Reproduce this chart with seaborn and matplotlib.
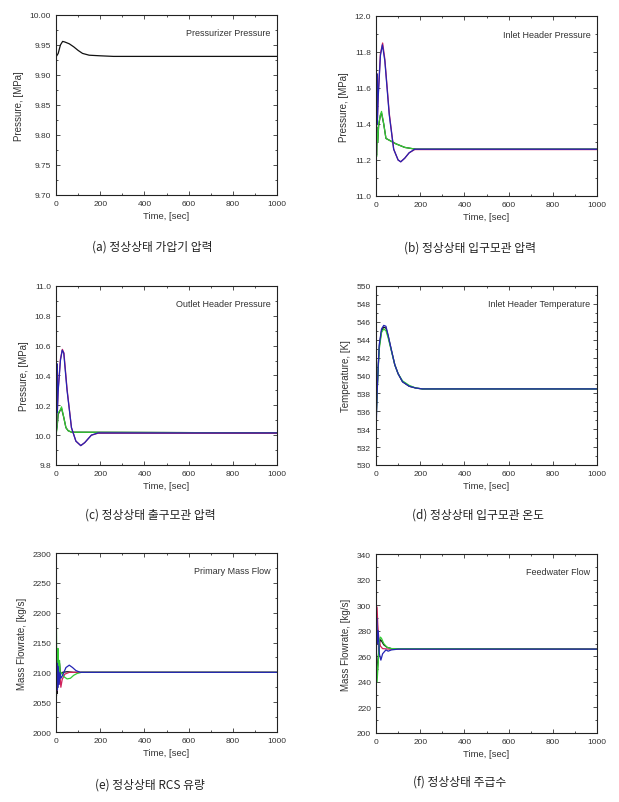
"""
plot.py

Six steady-state transient panels (pressure, temperature, flow) laid out 2x3
with Korean captions under each panel.
"""

import matplotlib
matplotlib.use("Agg")
import matplotlib.pyplot as plt
from matplotlib.ticker import MultipleLocator, AutoMinorLocator
import seaborn as sns

# ---- data -----------------------------------------------------------------
# (a) pressurizer pressure [MPa]
A_T = [0, 5, 10, 20, 30, 40, 60, 80, 100, 120, 150, 200, 260, 400, 1000]
A_BLACK = [9.930, 9.933, 9.936, 9.950, 9.956, 9.955, 9.952, 9.947, 9.941,
           9.936, 9.933, 9.932, 9.931, 9.931, 9.931]

# (b) inlet header pressure [MPa]
B_T_BLUE = [0, 2, 4, 6, 10, 20, 29, 40, 60, 80, 100, 112, 130, 150, 175, 1000]
B_BLUE = [12.0, 11.35, 11.68, 11.40, 11.55, 11.78, 11.84, 11.75, 11.45,
          11.26, 11.20, 11.19, 11.21, 11.24, 11.26, 11.26]
B_T_RED = [0, 2, 4, 6, 10, 20, 30, 40, 60, 80, 100, 112, 130, 150, 175, 1000]
B_RED = [11.9, 11.36, 11.66, 11.42, 11.56, 11.79, 11.85, 11.76, 11.46,
         11.26, 11.20, 11.19, 11.21, 11.24, 11.258, 11.258]
B_T_GREEN = [0, 3, 5, 8, 12, 20, 25, 35, 45, 60, 90, 130, 180, 1000]
B_GREEN = [11.25, 11.22, 11.38, 11.30, 11.40, 11.45, 11.47, 11.40, 11.32,
           11.31, 11.29, 11.27, 11.26, 11.26]
B_BLACK = [11.24, 11.23, 11.36, 11.30, 11.39, 11.45, 11.46, 11.40, 11.32,
           11.31, 11.29, 11.27, 11.26, 11.26]

# (c) outlet header pressure [MPa]
C_T_BLUE = [0, 2, 4, 6, 10, 20, 28, 35, 50, 70, 90, 112, 130, 160, 190, 1000]
C_BLUE = [10.80, 10.05, 10.48, 10.15, 10.30, 10.50, 10.57, 10.55, 10.30,
          10.05, 9.96, 9.93, 9.95, 10.00, 10.015, 10.015]
C_T_RED = [0, 2, 4, 6, 10, 20, 29, 36, 50, 70, 90, 112, 130, 160, 190, 1000]
C_RED = [10.70, 10.06, 10.46, 10.16, 10.31, 10.51, 10.575, 10.55, 10.31,
         10.05, 9.96, 9.93, 9.95, 10.00, 10.013, 10.013]
C_T_GREEN = [0, 5, 10, 20, 25, 35, 45, 55, 70, 1000]
C_GREEN = [10.00, 10.05, 10.15, 10.17, 10.19, 10.12, 10.05, 10.03, 10.02, 10.015]
C_BLACK = [10.01, 10.06, 10.14, 10.17, 10.18, 10.12, 10.05, 10.03, 10.02, 10.015]

# (d) inlet header temperature [K]
D_T = [0, 5, 10, 15, 25, 35, 45, 55, 70, 85, 100, 120, 150, 180, 210, 1000]
D_BLUE = [533.5, 538.0, 541.0, 543.5, 545.2, 545.6, 545.5, 544.5, 542.8,
          541.2, 540.2, 539.3, 538.8, 538.6, 538.5, 538.5]
D_GREEN = [534.5, 538.0, 540.8, 543.0, 544.8, 545.2, 545.0, 544.2, 542.7,
           541.2, 540.2, 539.4, 538.9, 538.6, 538.5, 538.5]
D_BLACK = [535.0, 538.2, 541.0, 543.3, 545.0, 545.4, 545.3, 544.4, 542.8,
           541.2, 540.2, 539.3, 538.8, 538.6, 538.5, 538.5]

# (e) primary mass flow [kg/s]
E_T_BLUE = [0, 2, 4, 6, 8, 10, 14, 18, 22, 30, 45, 60, 75, 90, 110, 150, 1000]
E_BLUE = [2050, 2120, 2070, 2115, 2075, 2110, 2080, 2100, 2090, 2095, 2108,
          2112, 2108, 2103, 2100, 2100, 2100]
E_T_GREEN = [1, 3, 6, 9, 12, 16, 20, 25, 35, 50, 65, 80, 95, 115, 150, 1000]
E_GREEN = [2210, 2130, 2080, 2140, 2090, 2120, 2095, 2100, 2093, 2089, 2090,
           2095, 2098, 2100, 2100, 2100]
E_T_BLACK = [0, 2, 4, 6, 9, 12, 16, 20, 30, 50, 80, 120, 1000]
E_BLACK = [2140, 2060, 2120, 2065, 2118, 2080, 2115, 2098, 2100, 2101, 2100,
           2100, 2100]
E_T_RED = [0, 3, 6, 10, 14, 18, 22, 28, 40, 60, 90, 1000]
E_RED = [2080, 2110, 2070, 2105, 2080, 2095, 2075, 2088, 2097, 2100, 2100, 2100]

# (f) feedwater flow [kg/s]
F_T_BLUE = [0, 3, 6, 10, 15, 22, 30, 45, 55, 70, 100, 1000]
F_BLUE = [200, 290, 270, 280, 262, 257, 262, 265, 264, 265, 265.6, 265.6]
F_T_RED = [1, 5, 8, 12, 20, 30, 60, 1000]
F_RED = [300, 298, 285, 275, 268, 266, 265.6, 265.6]
F_T_GREEN = [1, 5, 10, 15, 20, 25, 35, 50, 70, 1000]
F_GREEN = [265, 240, 255, 272, 275, 274, 270, 267, 266, 265.6]
F_BLACK = [266, 245, 258, 270, 273, 272, 269, 267, 266, 265.6]

# ---- style ------------------------------------------------------------------
sns.set_style("ticks")
plt.rcParams["font.family"] = ["Liberation Sans", "Noto Sans CJK KR"]
plt.rcParams["xtick.direction"] = "in"
plt.rcParams["ytick.direction"] = "in"

BLACK = "#111111"
RED = "#d0205a"
GREEN = "#33cc33"
BLUE = "#2424b4"
TXT = "#333333"

W, H = 619, 803
fig = plt.figure(figsize=(W / 100, H / 100), dpi=100)


def make_ax(left, top, right, bottom):
    return fig.add_axes([left / W, 1 - bottom / H, (right - left) / W,
                         (bottom - top) / H])


def style_ax(ax, ylim, ystep, yfmt, ylabel, title):
    ax.set_xlim(0, 1000)
    ax.set_ylim(*ylim)
    ax.xaxis.set_major_locator(MultipleLocator(200))
    ax.xaxis.set_minor_locator(AutoMinorLocator(2))
    ax.yaxis.set_major_locator(MultipleLocator(ystep))
    ax.yaxis.set_minor_locator(AutoMinorLocator(2))
    ax.yaxis.set_major_formatter(yfmt)
    ax.tick_params(which="both", top=True, right=True, labelsize=6,
                   colors=TXT, width=0.6)
    ax.tick_params(which="major", length=3)
    ax.tick_params(which="minor", length=1.5)
    for s in ax.spines.values():
        s.set_linewidth(0.8)
        s.set_color("#222222")
    ax.set_xlabel("Time, [sec]", fontsize=6.8, color=TXT, labelpad=3)
    ax.set_ylabel(ylabel, fontsize=7, color=TXT, labelpad=4)
    ax.text(0.97, 0.9, title, transform=ax.transAxes, ha="right", va="center",
            fontsize=6.5, color=TXT)


def line(ax, t, y, color):
    sns.lineplot(x=t, y=y, ax=ax, color=color, lw=0.9, estimator=None,
                 sort=False)


def caption(x, y, text):
    fig.text(x / W, 1 - y / H, text, ha="center", va="center", fontsize=8.5,
             color="#222222", family=["Noto Sans CJK KR", "DejaVu Sans"])


# (a)
ax = make_ax(56, 16, 277, 196)
line(ax, A_T, A_BLACK, BLACK)
style_ax(ax, (9.70, 10.00), 0.05, "{x:.2f}", "Pressure, [MPa]",
         "Pressurizer Pressure")
caption(152, 247, "(a) 정상상태 가압기 압력")

# (b)
ax = make_ax(376, 17, 597, 197)
line(ax, B_T_GREEN, B_BLACK, BLACK)
line(ax, B_T_GREEN, B_GREEN, GREEN)
line(ax, B_T_RED, B_RED, RED)
line(ax, B_T_BLUE, B_BLUE, BLUE)
style_ax(ax, (11.0, 12.0), 0.2, "{x:.1f}", "Pressure, [MPa]",
         "Inlet Header Pressure")
caption(470, 248, "(b) 정상상태 입구모관 압력")

# (c)
ax = make_ax(56, 287, 277, 466)
line(ax, C_T_GREEN, C_BLACK, BLACK)
line(ax, C_T_GREEN, C_GREEN, GREEN)
line(ax, C_T_RED, C_RED, RED)
line(ax, C_T_BLUE, C_BLUE, BLUE)
style_ax(ax, (9.8, 11.0), 0.2, "{x:.1f}", "Pressure, [MPa]",
         "Outlet Header Pressure")
caption(150, 515, "(c) 정상상태 출구모관 압력")

# (d)
ax = make_ax(376, 287, 597, 466)
line(ax, D_T, D_BLACK, BLACK)
line(ax, D_T, D_GREEN, GREEN)
line(ax, D_T, D_BLUE, BLUE)
style_ax(ax, (530, 550), 2, "{x:.0f}", "Temperature, [K]",
         "Inlet Header Temperature")
caption(478, 515, "(d) 정상상태 입구모관 온도")

# (e)
ax = make_ax(56, 554, 277, 733)
line(ax, E_T_BLACK, E_BLACK, BLACK)
line(ax, E_T_RED, E_RED, RED)
line(ax, E_T_GREEN, E_GREEN, GREEN)
line(ax, E_T_BLUE, E_BLUE, BLUE)
style_ax(ax, (2000, 2300), 50, "{x:.0f}", "Mass Flowrate, [kg/s]",
         "Primary Mass Flow")
caption(150, 785, "(e) 정상상태 RCS 유량")

# (f)
ax = make_ax(376, 555, 597, 734)
line(ax, F_T_GREEN, F_BLACK, BLACK)
line(ax, F_T_RED, F_RED, RED)
line(ax, F_T_GREEN, F_GREEN, GREEN)
line(ax, F_T_BLUE, F_BLUE, BLUE)
style_ax(ax, (200, 340), 20, "{x:.0f}", "Mass Flowrate, [kg/s]",
         "Feedwater Flow")
caption(460, 782, "(f) 정상상태 주급수")

fig.savefig("out.png", dpi=100, facecolor="white")
